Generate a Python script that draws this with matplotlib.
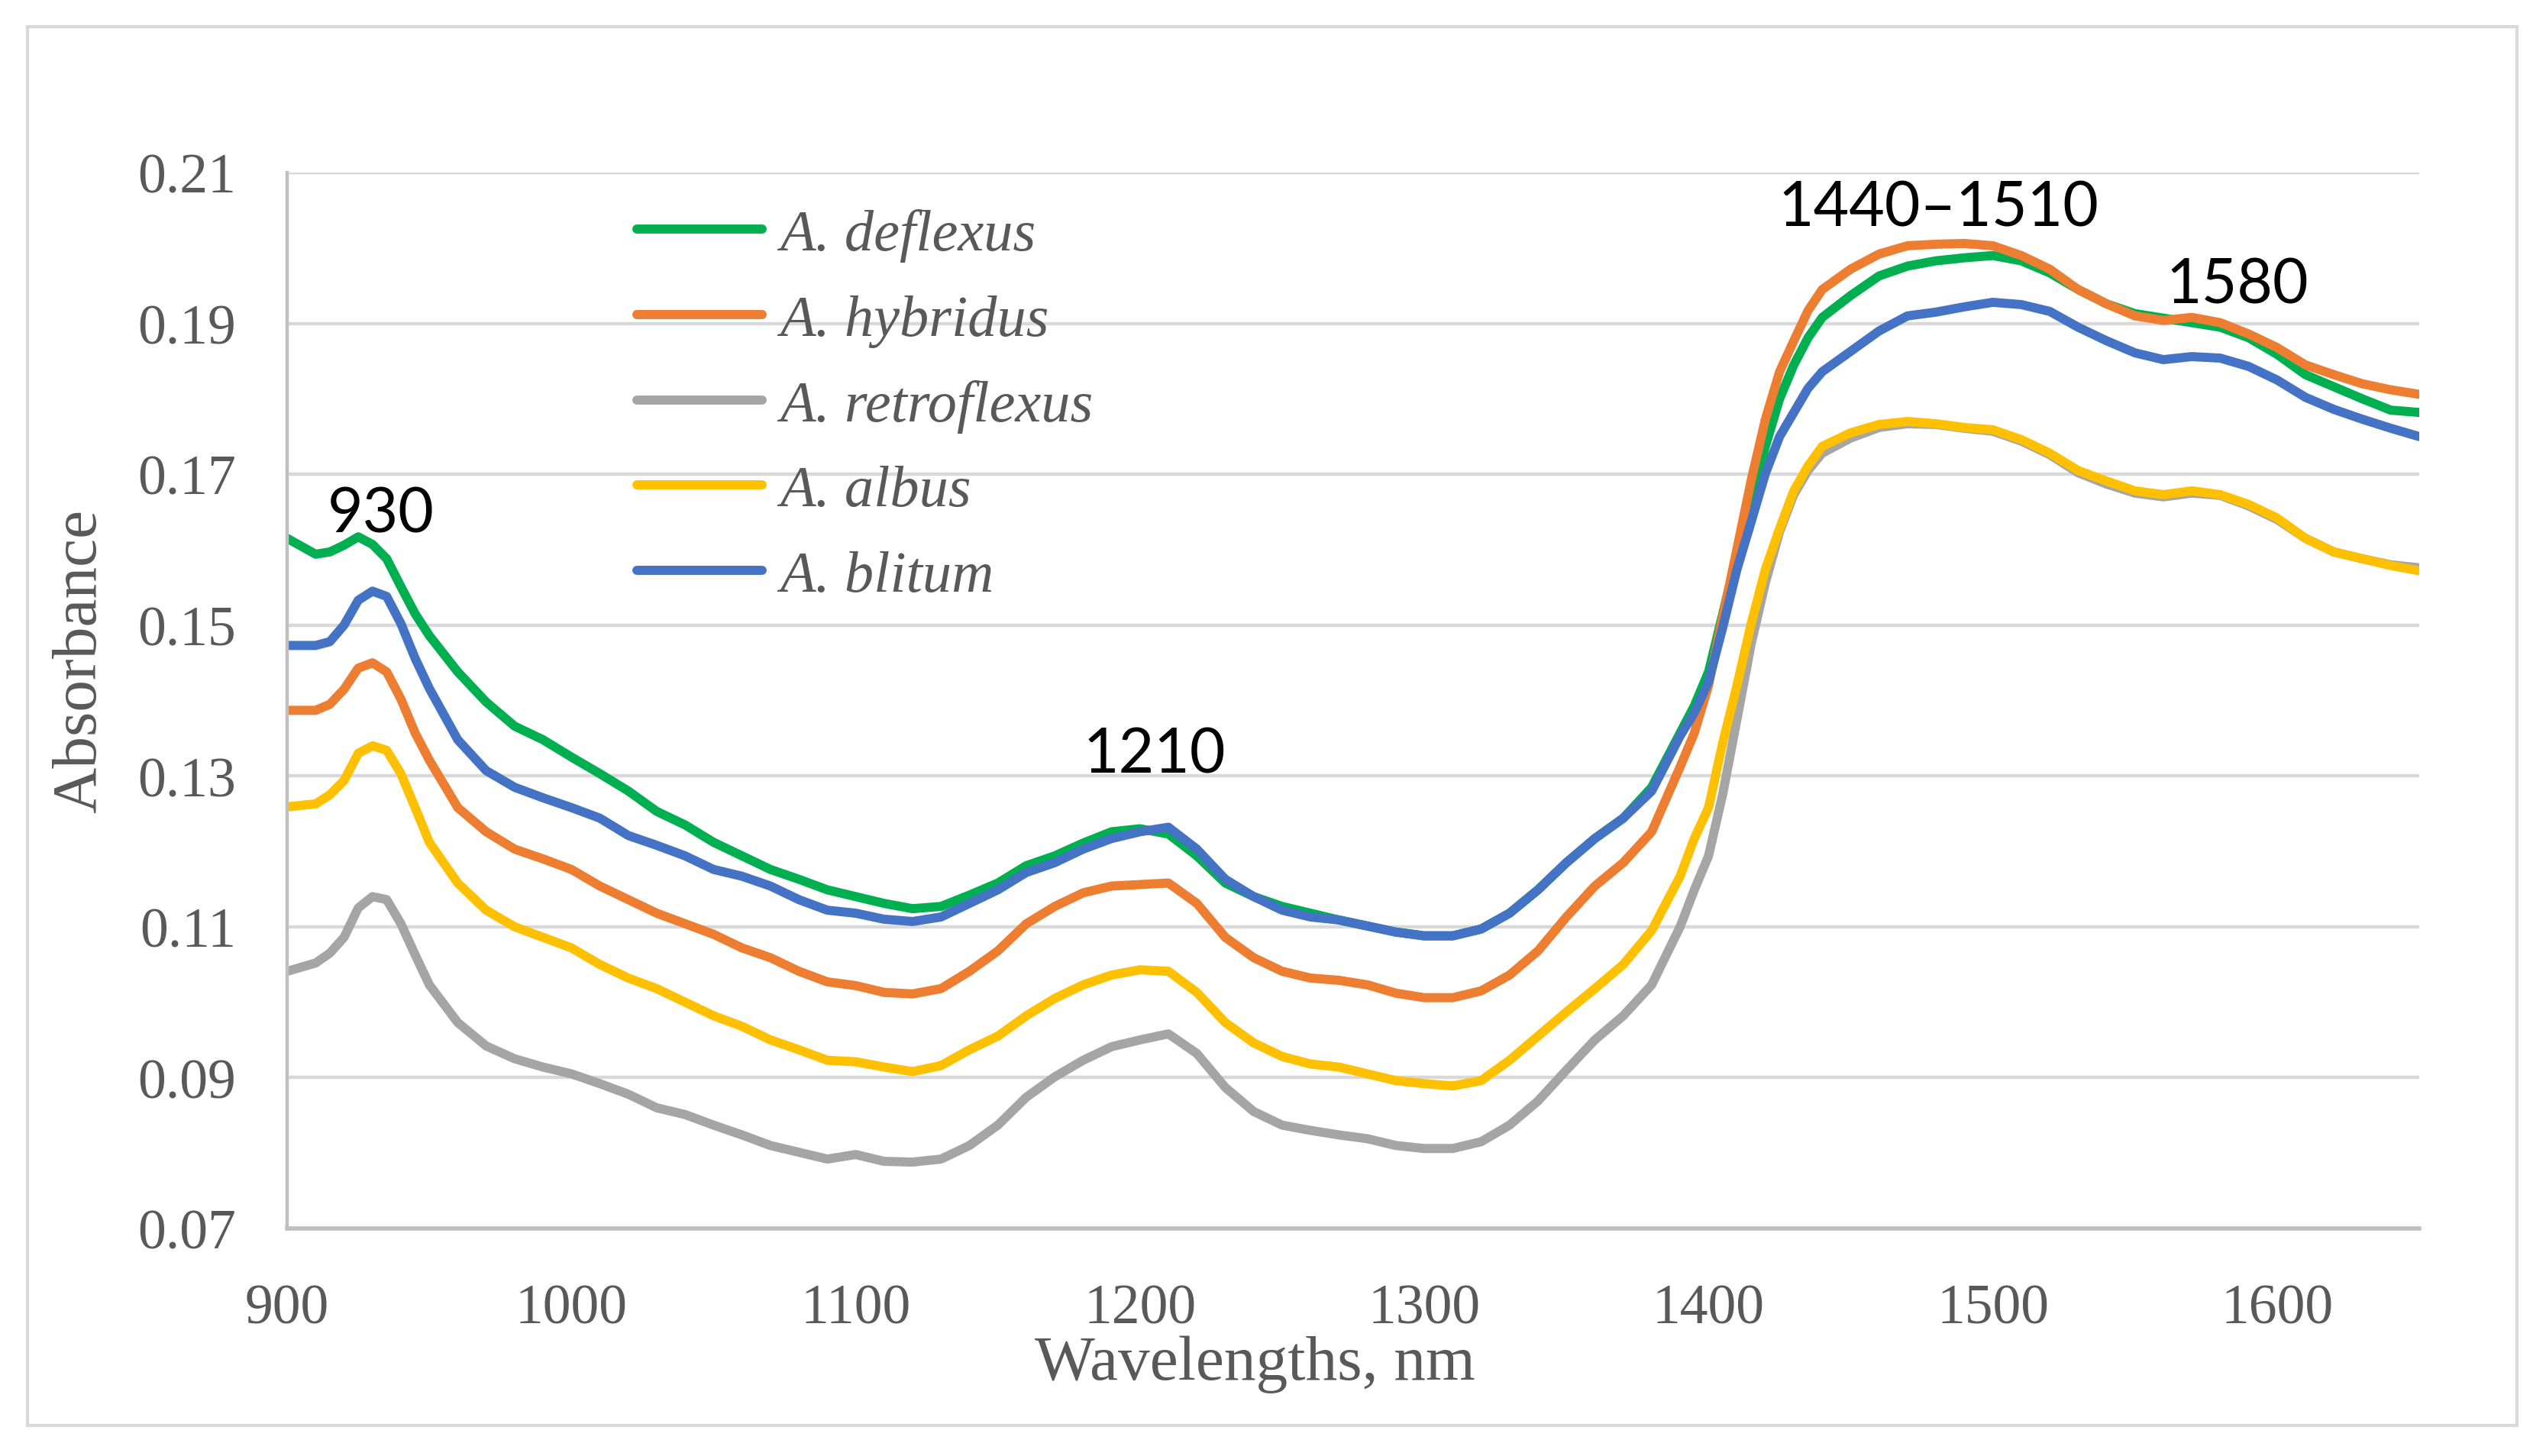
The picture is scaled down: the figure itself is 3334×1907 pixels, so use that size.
import matplotlib
matplotlib.use("Agg")
import matplotlib.pyplot as plt
from matplotlib.patches import Rectangle

# wavelength grid (nm)
wavelengths = [900, 910, 915, 920, 925, 930, 935, 940, 945, 950,
               960, 970, 980, 990, 1000, 1010, 1020, 1030, 1040, 1050,
               1060, 1070, 1080, 1090, 1100, 1110, 1120, 1130, 1140, 1150,
               1160, 1170, 1180, 1190, 1200, 1210, 1220, 1230, 1240, 1250,
               1260, 1270, 1280, 1290, 1300, 1310, 1320, 1330, 1340, 1350,
               1360, 1370, 1380, 1390, 1395, 1400, 1405, 1410, 1415, 1420,
               1425, 1430, 1435, 1440, 1450, 1460, 1470, 1480, 1490, 1500,
               1510, 1520, 1530, 1540, 1550, 1560, 1570, 1580, 1590, 1600,
               1610, 1620, 1630, 1640, 1650]

deflexus = [0.1615, 0.1594, 0.1597, 0.1606, 0.1617, 0.1607, 0.1588, 0.1551, 0.1515, 0.1486,
            0.1438, 0.1398, 0.1366, 0.1348, 0.1325, 0.1303, 0.1280, 0.1253, 0.1235, 0.1212,
            0.1194, 0.1176, 0.1163, 0.1149, 0.1140, 0.1131, 0.1124, 0.1127, 0.1142, 0.1158,
            0.1181, 0.1194, 0.1211, 0.1226, 0.1230, 0.1223, 0.1194, 0.1158, 0.1140, 0.1127,
            0.1118, 0.1109, 0.1101, 0.1093, 0.1088, 0.1088, 0.1097, 0.1118, 0.1149, 0.1185,
            0.1217, 0.1244, 0.1285, 0.1357, 0.1393, 0.1438, 0.1515, 0.1592, 0.1664, 0.1737,
            0.1800, 0.1845, 0.1881, 0.1908, 0.1937, 0.1963, 0.1976, 0.1983, 0.1987, 0.1990,
            0.1983, 0.1967, 0.1945, 0.1926, 0.1913, 0.1907, 0.1901, 0.1895, 0.1881, 0.1859,
            0.1832, 0.1816, 0.1800, 0.1785, 0.1782]

hybridus = [0.1387, 0.1387, 0.1395, 0.1415, 0.1443, 0.1450, 0.1438, 0.1402, 0.1357, 0.1321,
            0.1258, 0.1226, 0.1203, 0.1190, 0.1176, 0.1154, 0.1136, 0.1118, 0.1104, 0.1090,
            0.1072, 0.1059, 0.1041, 0.1027, 0.1022, 0.1013, 0.1011, 0.1018, 0.1041, 0.1068,
            0.1104, 0.1127, 0.1145, 0.1154, 0.1156, 0.1158, 0.1131, 0.1086, 0.1059, 0.1041,
            0.1032, 0.1029, 0.1023, 0.1012, 0.1006, 0.1006, 0.1015, 0.1036, 0.1068, 0.1113,
            0.1154, 0.1185, 0.1226, 0.1312, 0.1357, 0.1420, 0.1511, 0.1601, 0.1692, 0.1773,
            0.1836, 0.1877, 0.1917, 0.1945, 0.1972, 0.1992, 0.2003, 0.2005, 0.2006, 0.2003,
            0.1990, 0.1972, 0.1945, 0.1926, 0.1910, 0.1904, 0.1908, 0.1901, 0.1886, 0.1868,
            0.1845, 0.1832, 0.1820, 0.1812, 0.1806]

retroflexus = [0.1041, 0.1052, 0.1065, 0.1086, 0.1125, 0.1140, 0.1136, 0.1104, 0.1063, 0.1023,
               0.0973, 0.0942, 0.0925, 0.0914, 0.0905, 0.0892, 0.0878, 0.0860, 0.0851, 0.0837,
               0.0824, 0.0810, 0.0801, 0.0792, 0.0798, 0.0789, 0.0788, 0.0792, 0.0810, 0.0837,
               0.0874, 0.0901, 0.0923, 0.0941, 0.0950, 0.0958, 0.0932, 0.0887, 0.0855, 0.0837,
               0.0830, 0.0824, 0.0819, 0.0810, 0.0806, 0.0806, 0.0815, 0.0837, 0.0869, 0.0910,
               0.0950, 0.0982, 0.1023, 0.1100, 0.1149, 0.1194, 0.1276, 0.1375, 0.1475, 0.1556,
               0.1624, 0.1673, 0.1705, 0.1728, 0.1748, 0.1762, 0.1767, 0.1766, 0.1761, 0.1757,
               0.1744, 0.1726, 0.1702, 0.1687, 0.1675, 0.1670, 0.1675, 0.1672, 0.1658, 0.1640,
               0.1615, 0.1597, 0.1588, 0.1580, 0.1576]

albus = [0.1259, 0.1263, 0.1275, 0.1294, 0.1330, 0.1340, 0.1334, 0.1303, 0.1258, 0.1212,
         0.1158, 0.1122, 0.1100, 0.1086, 0.1072, 0.1050, 0.1032, 0.1018, 0.1000, 0.0982,
         0.0968, 0.0950, 0.0937, 0.0923, 0.0921, 0.0914, 0.0908, 0.0916, 0.0937, 0.0955,
         0.0982, 0.1005, 0.1023, 0.1036, 0.1043, 0.1041, 0.1013, 0.0973, 0.0946, 0.0928,
         0.0918, 0.0914, 0.0905, 0.0896, 0.0892, 0.0889, 0.0896, 0.0923, 0.0955, 0.0987,
         0.1018, 0.1050, 0.1095, 0.1167, 0.1217, 0.1258, 0.1344, 0.1420, 0.1502, 0.1574,
         0.1628, 0.1678, 0.1711, 0.1737, 0.1755, 0.1766, 0.1770, 0.1767, 0.1762, 0.1759,
         0.1746, 0.1728, 0.1705, 0.1691, 0.1678, 0.1673, 0.1678, 0.1673, 0.1660, 0.1642,
         0.1615, 0.1597, 0.1588, 0.1579, 0.1572]

blitum = [0.1473, 0.1473, 0.1478, 0.1500, 0.1533, 0.1545, 0.1538, 0.1502, 0.1456, 0.1416,
          0.1348, 0.1307, 0.1285, 0.1271, 0.1258, 0.1244, 0.1221, 0.1208, 0.1194, 0.1176,
          0.1167, 0.1154, 0.1136, 0.1122, 0.1118, 0.1110, 0.1107, 0.1113, 0.1131, 0.1149,
          0.1172, 0.1185, 0.1203, 0.1217, 0.1226, 0.1232, 0.1203, 0.1163, 0.1140, 0.1122,
          0.1113, 0.1109, 0.1101, 0.1093, 0.1088, 0.1088, 0.1097, 0.1118, 0.1149, 0.1185,
          0.1217, 0.1244, 0.1280, 0.1353, 0.1384, 0.1425, 0.1497, 0.1574, 0.1637, 0.1701,
          0.1750, 0.1782, 0.1814, 0.1836, 0.1863, 0.1890, 0.1910, 0.1915, 0.1922, 0.1928,
          0.1925, 0.1916, 0.1895, 0.1877, 0.1861, 0.1852, 0.1856, 0.1854, 0.1843, 0.1825,
          0.1802, 0.1786, 0.1773, 0.1761, 0.1750]

series_names = ["A. deflexus", "A. hybridus", "A. retroflexus", "A. albus", "A. blitum"]
series_colors = ["#00B050", "#ED7D31", "#A5A5A5", "#FFC000", "#4472C4"]

peak_labels = ["930", "1210", "1440\u20131510", "1580"]
peak_x = [933, 1205, 1481, 1586]
peak_y = [0.1647, 0.1328, 0.2053, 0.1951]

y_ticks = [0.07, 0.09, 0.11, 0.13, 0.15, 0.17, 0.19, 0.21]
x_ticks = [900, 1000, 1100, 1200, 1300, 1400, 1500, 1600]

text_grey = "#595959"
serif = ["Liberation Serif", "DejaVu Serif"]

fig = plt.figure(figsize=(16.67, 9.54), dpi=200)
ax = fig.add_axes([0.1128, 0.1562, 0.8374, 0.7248])

all_series = [deflexus, hybridus, retroflexus, albus, blitum]
for vals, name, col in zip(all_series, series_names, series_colors):
    ax.plot(wavelengths, vals, color=col, lw=4.3, label=name,
            solid_capstyle="round", solid_joinstyle="round")

ax.set_xlim(900, 1650)
ax.set_ylim(0.07, 0.21)
ax.set_yticks(y_ticks)
ax.set_yticklabels([f"{v:.2f}" for v in y_ticks])
ax.set_xticks(x_ticks)

ax.grid(axis="y", color="#D9D9D9", lw=1.6)
ax.set_axisbelow(True)
for s in ["top", "right"]:
    ax.spines[s].set_visible(False)
ax.spines["left"].set_color("#BFBFBF")
ax.spines["left"].set_linewidth(1.6)
ax.spines["bottom"].set_color("#BFBFBF")
ax.spines["bottom"].set_linewidth(2.0)

ax.tick_params(axis="both", length=0, labelsize=26.5, labelcolor=text_grey)
ax.tick_params(axis="y", pad=24)
ax.tick_params(axis="x", pad=26)
for lab in ax.get_xticklabels() + ax.get_yticklabels():
    lab.set_fontfamily(serif)

ax.set_xlabel("Wavelengths, nm", fontsize=30, color=text_grey, family=serif)
ax.set_ylabel("Absorbance", fontsize=30, color=text_grey, family=serif)
ax.xaxis.set_label_coords(0.454, -0.128)
ax.yaxis.set_label_coords(-0.097, 0.538)
ax.xaxis.label.set_va("center")
ax.yaxis.label.set_va("center")

for txt, xv, yv in zip(peak_labels, peak_x, peak_y):
    ax.text(xv, yv, txt, ha="center", va="center", fontsize=29,
            family=["Lato", "DejaVu Sans"], color="black")

leg = ax.legend(loc="upper left", bbox_to_anchor=(0.164, 0.966),
                frameon=False, borderpad=0, borderaxespad=0,
                handlelength=2.15, handletextpad=0.3, labelspacing=0.55,
                prop={"family": serif, "style": "italic", "size": 27.5})
for t in leg.get_texts():
    t.set_color(text_grey)

# chart area border
fig.patches.append(Rectangle((36 / 3334, 1 - 1868 / 1908), (3296 - 36) / 3334,
                             (1868 - 36) / 1908, transform=fig.transFigure,
                             fill=False, edgecolor="#D9D9D9", lw=1.5))

fig.savefig("out.png", dpi=200)
